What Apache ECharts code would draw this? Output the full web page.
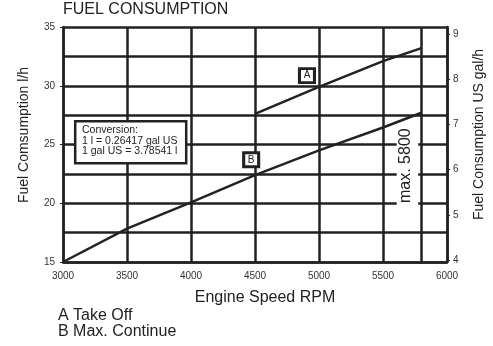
<!DOCTYPE html>
<html>
<head>
<meta charset="utf-8">
<script src="https://cdn.jsdelivr.net/npm/echarts@6/dist/echarts.min.js"></script>
<style>html,body{margin:0;padding:0;background:#fff}#c{width:493px;height:346px}</style>
</head>
<body>
<div id="c"></div>
<script>
// ---- data ----
const rpmMin = 3000, rpmMax = 6000, rpmStep = 500;
const fuelMin = 15, fuelMax = 35, fuelStep = 2.5;
const fuelLabels = [15, 20, 25, 30, 35];
const galMin = 3.956, galMax = 9.155;
const galLabels = [4, 5, 6, 7, 8, 9];
const takeOffRpm = [4500, 5000, 5500, 5800];
const takeOffFuel = [27.6, 29.9, 32.1, 33.2];
const maxContRpm = [3000, 3500, 4000, 4500, 5000, 5500, 5800];
const maxContFuel = [15, 17.84, 20.08, 22.4, 24.5, 26.45, 27.7];
const maxRpm = 5800;
const labelA = [4906, 30.86];
const labelB = [4470, 23.7];
const maxTextPos = [5680, 23.2];
const gapArea = [[5607, 19.3], [5775, 25.7]];

const FONT = '"Liberation Sans", Arial, sans-serif';
const INK = '#222';
const LW = 2.5;

function pairs(xs, ys) { return xs.map((x, i) => [x, ys[i]]); }

const chart = echarts.init(document.getElementById('c'), null, {renderer: 'canvas'});
chart.setOption({
  animation: false,
  backgroundColor: '#fff',
  textStyle: {fontFamily: FONT, color: INK},
  grid: {left: 63, top: 27, width: 384, height: 235},
  xAxis: {
    type: 'value', min: rpmMin, max: rpmMax, interval: rpmStep,
    axisLine: {show: true, lineStyle: {color: INK, width: LW}},
    axisTick: {show: false},
    axisLabel: {fontSize: 10, color: '#333', margin: 9, fontFamily: FONT, formatter: v => String(v)},
    splitLine: {show: true, lineStyle: {color: INK, width: LW}}
  },
  yAxis: [{
    type: 'value', position: 'left', min: fuelMin, max: fuelMax, interval: fuelStep,
    axisLine: {show: true, lineStyle: {color: INK, width: LW}},
    axisTick: {show: true, length: 3, customValues: fuelLabels, lineStyle: {color: INK, width: 1}},
    axisLabel: {fontSize: 10, color: '#333', margin: 8, customValues: fuelLabels, fontFamily: FONT},
    splitLine: {show: false}
  }, {
    type: 'value', position: 'right', min: galMin, max: galMax,
    axisLine: {show: true, lineStyle: {color: INK, width: LW}},
    axisTick: {show: true, length: 3, customValues: galLabels, lineStyle: {color: INK, width: 1}},
    axisLabel: {fontSize: 10, color: '#333', margin: 6, customValues: galLabels, fontFamily: FONT},
    splitLine: {show: false}
  }, {
    type: 'value', position: 'left', min: fuelMin, max: fuelMax, interval: fuelStep,
    axisLine: {show: false}, axisTick: {show: false}, axisLabel: {show: false},
    splitLine: {show: true, lineStyle: {color: INK, width: LW}}
  }],
  series: [{
    name: 'A Take Off', type: 'line', data: pairs(takeOffRpm, takeOffFuel),
    showSymbol: false, symbol: 'none', z: 3,
    lineStyle: {color: INK, width: LW},
    markPoint: {
      silent: true,
      data: [{coord: labelA, symbol: 'rect', symbolSize: [15, 14],
        itemStyle: {color: '#fff', borderColor: INK, borderWidth: 3},
        label: {show: true, position: 'inside', formatter: 'A', color: INK, fontSize: 10, fontFamily: FONT}}]
    }
  }, {
    name: 'B Max. Continue', type: 'line', data: pairs(maxContRpm, maxContFuel),
    showSymbol: false, symbol: 'none', z: 3,
    lineStyle: {color: INK, width: LW},
    markPoint: {
      silent: true,
      data: [{coord: labelB, symbol: 'rect', symbolSize: [15, 14],
        itemStyle: {color: '#fff', borderColor: INK, borderWidth: 3},
        label: {show: true, position: 'inside', formatter: 'B', color: INK, fontSize: 10, fontFamily: FONT}},
        {coord: maxTextPos, symbol: 'rect', symbolSize: 1,
        itemStyle: {color: 'rgba(0,0,0,0)'},
        label: {show: true, position: 'inside', rotate: 90, formatter: 'max. 5800', color: INK, fontSize: 16, fontFamily: FONT}}]
    },
    markArea: {
      silent: true,
      itemStyle: {color: '#fff', opacity: 1, borderWidth: 0},
      data: [[{coord: gapArea[0]}, {coord: gapArea[1]}]]
    },
    markLine: {
      silent: true, symbol: 'none', label: {show: false},
      lineStyle: {color: INK, width: LW, type: 'solid'},
      data: [{xAxis: maxRpm}]
    }
  }],
  graphic: [
    {type: 'text', x: 63, y: 9.5, z: 100,
      style: {text: 'FUEL CONSUMPTION', font: '16px ' + FONT, fill: INK, textAlign: 'left', textVerticalAlign: 'middle'}},
    {type: 'text', x: 24, y: 135, rotation: Math.PI / 2, z: 100,
      style: {text: 'Fuel Comsumption l/h', font: '14px ' + FONT, fill: INK, textAlign: 'center', textVerticalAlign: 'middle'}},
    {type: 'text', x: 479.5, y: 134.5, rotation: Math.PI / 2, z: 100,
      style: {text: 'Fuel Consumption US gal/h', font: '14px ' + FONT, fill: INK, textAlign: 'center', textVerticalAlign: 'middle'}},
    {type: 'text', x: 265, y: 298, z: 100,
      style: {text: 'Engine Speed RPM', font: '16px ' + FONT, fill: INK, textAlign: 'center', textVerticalAlign: 'middle'}},
    {type: 'text', x: 58, y: 315.5, z: 100,
      style: {text: 'A Take Off', font: '16px ' + FONT, fill: INK, textAlign: 'left', textVerticalAlign: 'middle'}},
    {type: 'text', x: 58, y: 332, z: 100,
      style: {text: 'B Max. Continue', font: '16px ' + FONT, fill: INK, textAlign: 'left', textVerticalAlign: 'middle'}},
    {type: 'rect', z: 100, shape: {x: 75.2, y: 121.2, width: 111, height: 42},
      style: {fill: '#fff', stroke: INK, lineWidth: LW}},
    {type: 'text', x: 82, y: 124.6, z: 101,
      style: {text: 'Conversion:\n1 l = 0.26417 gal US\n1 gal US = 3.78541 l', font: '10.5px ' + FONT, fill: INK, lineHeight: 10.8, textAlign: 'left', textVerticalAlign: 'top'}}
  ]
});
</script>
</body>
</html>
